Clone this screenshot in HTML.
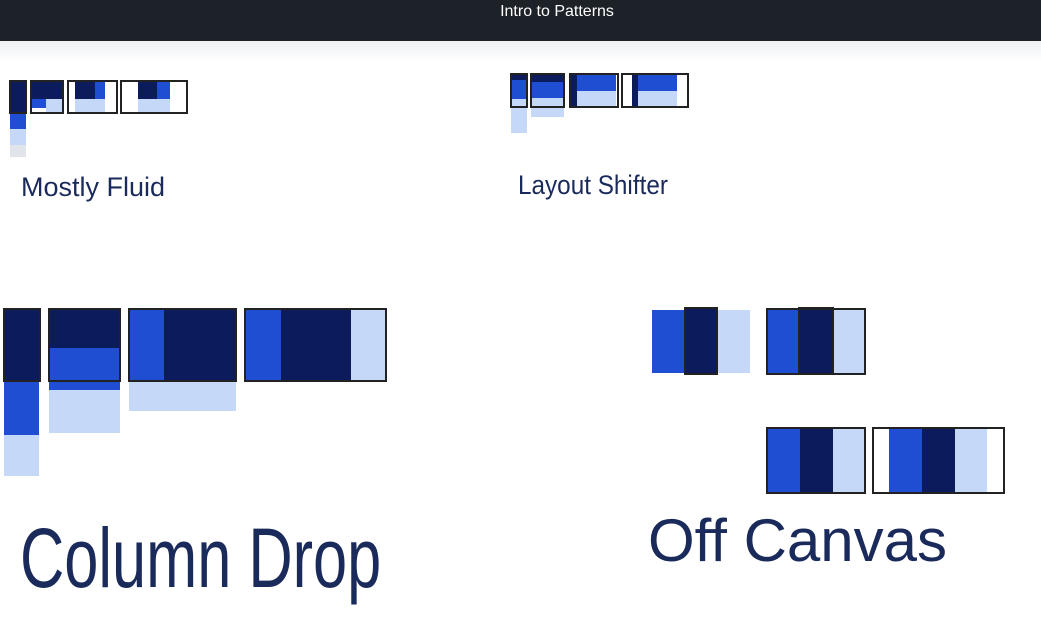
<!DOCTYPE html>
<html><head><meta charset="utf-8"><style>
body{margin:0;width:1041px;height:629px;position:relative;background:#fff;overflow:hidden;font-family:"Liberation Sans",sans-serif}
.r{position:absolute}
.k{background:#0b1b5c}.b{background:#1f4ed2}.l{background:#c6d8f8}.g{background:#e1e4ea}
.o{position:absolute;border:2px solid #222;box-sizing:border-box}
.t{position:absolute;color:#1a2a5a;font-weight:300;white-space:nowrap;transform-origin:0 0}
</style></head><body>
<div class="r" style="left:0;top:0;width:1041px;height:41px;background:#1d2128"></div>
<div class="r" style="left:0;top:41px;width:1041px;height:20px;background:linear-gradient(#eef0f2,#fff)"></div>
<div class="t" style="left:0;width:1114px;text-align:center;top:3px;color:#fff;font-size:16px">Intro to Patterns</div>

<div>
<div class="r k" style="left:10px;top:81px;width:16px;height:32px"></div>
<div class="r b" style="left:10px;top:113px;width:16px;height:16px"></div>
<div class="r l" style="left:10px;top:129px;width:16px;height:16px"></div>
<div class="r g" style="left:10px;top:145px;width:16px;height:12px"></div>
<div class="o" style="left:9px;top:80px;width:18px;height:34px"></div>
<div class="r k" style="left:31px;top:81px;width:32px;height:18px"></div>
<div class="r b" style="left:31px;top:99px;width:15px;height:9px"></div>
<div class="r l" style="left:46px;top:99px;width:17px;height:13px"></div>
<div class="o" style="left:30px;top:80px;width:34px;height:34px"></div>
<div class="r k" style="left:75px;top:81px;width:20px;height:18px"></div>
<div class="r b" style="left:95px;top:81px;width:10px;height:18px"></div>
<div class="r l" style="left:75px;top:99px;width:30px;height:13px"></div>
<div class="o" style="left:67px;top:80px;width:51px;height:34px"></div>
<div class="r k" style="left:138px;top:81px;width:19px;height:18px"></div>
<div class="r b" style="left:157px;top:81px;width:13px;height:18px"></div>
<div class="r l" style="left:138px;top:99px;width:32px;height:13px"></div>
<div class="o" style="left:120px;top:80px;width:68px;height:34px"></div>
</div>
<div class="t" style="left:21px;top:172px;font-size:27px">Mostly Fluid</div>

<div>
<div class="r k" style="left:511px;top:74px;width:16px;height:6px"></div>
<div class="r b" style="left:511px;top:80px;width:16px;height:19px"></div>
<div class="r l" style="left:511px;top:99px;width:16px;height:34px"></div>
<div class="o" style="left:510px;top:73px;width:18px;height:35px"></div>
<div class="r k" style="left:531px;top:74px;width:33px;height:8px"></div>
<div class="r b" style="left:531px;top:82px;width:33px;height:16px"></div>
<div class="r l" style="left:531px;top:98px;width:33px;height:19px"></div>
<div class="o" style="left:530px;top:73px;width:35px;height:35px"></div>
<div class="r k" style="left:570px;top:74px;width:7px;height:33px"></div>
<div class="r b" style="left:577px;top:74px;width:39px;height:17px"></div>
<div class="r l" style="left:577px;top:91px;width:39px;height:16px"></div>
<div class="o" style="left:569px;top:73px;width:50px;height:35px"></div>
<div class="r k" style="left:632px;top:74px;width:6px;height:33px"></div>
<div class="r b" style="left:638px;top:74px;width:39px;height:17px"></div>
<div class="r l" style="left:638px;top:91px;width:39px;height:16px"></div>
<div class="o" style="left:621px;top:73px;width:68px;height:35px"></div>
</div>
<div class="t" style="left:518px;top:170px;font-size:27px;transform:scaleX(0.9)">Layout Shifter</div>

<div>
<div class="r k" style="left:4px;top:309px;width:35px;height:72px"></div>
<div class="r b" style="left:4px;top:381px;width:35px;height:54px"></div>
<div class="r l" style="left:4px;top:435px;width:35px;height:41px"></div>
<div class="o" style="left:3px;top:308px;width:38px;height:74px"></div>
<div class="r k" style="left:49px;top:309px;width:71px;height:39px"></div>
<div class="r b" style="left:49px;top:348px;width:71px;height:42px"></div>
<div class="r l" style="left:49px;top:390px;width:71px;height:43px"></div>
<div class="o" style="left:48px;top:308px;width:73px;height:74px"></div>
<div class="r b" style="left:129px;top:309px;width:35px;height:72px"></div>
<div class="r k" style="left:164px;top:309px;width:72px;height:72px"></div>
<div class="r l" style="left:129px;top:381px;width:107px;height:30px"></div>
<div class="o" style="left:128px;top:308px;width:109px;height:74px"></div>
<div class="r b" style="left:245px;top:309px;width:36px;height:72px"></div>
<div class="r k" style="left:281px;top:309px;width:70px;height:72px"></div>
<div class="r l" style="left:351px;top:309px;width:35px;height:72px"></div>
<div class="o" style="left:244px;top:308px;width:143px;height:74px"></div>
</div>
<div class="t" style="left:20px;top:510px;font-size:84px;transform:scaleX(0.73)">Column Drop</div>

<div>
<div class="r b" style="left:652px;top:310px;width:33px;height:63px"></div>
<div class="r k" style="left:685px;top:308px;width:32px;height:66px"></div>
<div class="r l" style="left:717px;top:310px;width:33px;height:63px"></div>
<div class="o" style="left:684px;top:307px;width:34px;height:68px"></div>
<div class="r b" style="left:767px;top:309px;width:32px;height:65px"></div>
<div class="r k" style="left:799px;top:309px;width:34px;height:65px"></div>
<div class="r l" style="left:833px;top:309px;width:32px;height:65px"></div>
<div class="o" style="left:766px;top:308px;width:100px;height:67px"></div>
<div class="o" style="left:798px;top:307px;width:36px;height:68px"></div>
<div class="r b" style="left:767px;top:428px;width:33px;height:65px"></div>
<div class="r k" style="left:800px;top:428px;width:33px;height:65px"></div>
<div class="r l" style="left:833px;top:428px;width:32px;height:65px"></div>
<div class="o" style="left:766px;top:427px;width:100px;height:67px"></div>
<div class="r b" style="left:889px;top:428px;width:33px;height:65px"></div>
<div class="r k" style="left:922px;top:428px;width:33px;height:65px"></div>
<div class="r l" style="left:955px;top:428px;width:32px;height:65px"></div>
<div class="o" style="left:872px;top:427px;width:133px;height:67px"></div>
</div>
<div class="t" style="left:648px;top:506px;font-size:60px">Off Canvas</div>
</body></html>
